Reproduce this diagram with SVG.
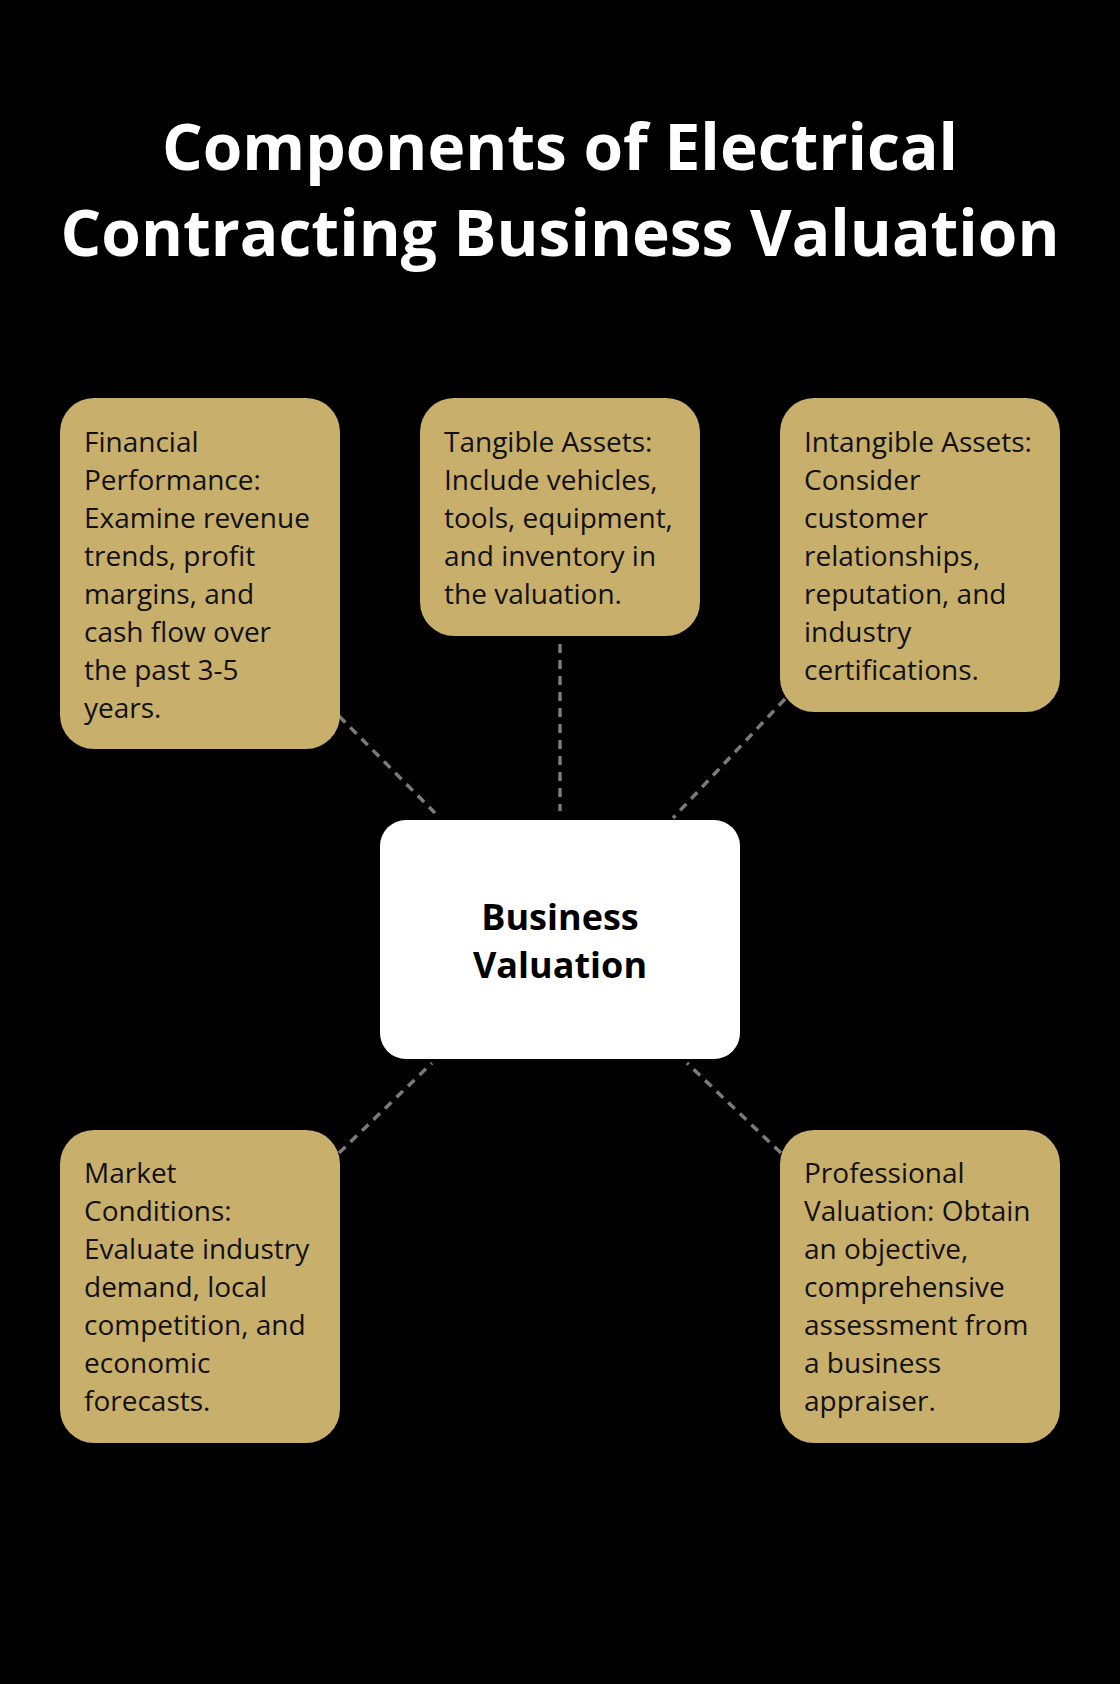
<svg xmlns="http://www.w3.org/2000/svg" width="1120" height="1684" viewBox="0 0 1120 1684">
<style>
.bg{fill:#000}
.card{fill:#C9AF6C}
.center{fill:#FFFFFF}
.t{font-family:"Open Sans","Noto Sans",sans-serif;font-size:28px;fill:#111}
.title{font-family:"Open Sans","Noto Sans",sans-serif;font-size:64px;font-weight:700;fill:#fff;text-anchor:middle}
.ct{font-family:"Open Sans","Noto Sans",sans-serif;font-size:36px;font-weight:700;fill:#000;text-anchor:middle}
.conn{stroke:#7a7a7a;stroke-width:3.5;stroke-dasharray:9 7;fill:none}
</style>
<rect class="bg" x="0" y="0" width="1120" height="1684"/>
<g id="title">
<text class="title" x="560" y="170">Components of Electrical</text>
<text class="title" x="560" y="256">Contracting Business Valuation</text>
</g>
<g id="connectors">
<line class="conn" x1="339" y1="716" x2="435" y2="813"/>
<line class="conn" x1="560" y1="644" x2="560" y2="811"/>
<line class="conn" x1="785" y1="699" x2="673" y2="818"/>
<line class="conn" x1="339" y1="1153" x2="432" y2="1063"/>
<line class="conn" x1="781" y1="1153" x2="687" y2="1063"/>
</g>
<g id="financial">
<rect class="card" x="60" y="398" width="280" height="351" rx="34"/>
<text class="t" x="84" y="452">Financial</text>
<text class="t" x="84" y="490">Performance:</text>
<text class="t" x="84" y="528">Examine revenue</text>
<text class="t" x="84" y="566">trends, profit</text>
<text class="t" x="84" y="604">margins, and</text>
<text class="t" x="84" y="642">cash flow over</text>
<text class="t" x="84" y="680">the past 3-5</text>
<text class="t" x="84" y="718">years.</text>
</g>
<g id="tangible">
<rect class="card" x="420" y="398" width="280" height="238" rx="34"/>
<text class="t" x="444" y="452">Tangible Assets:</text>
<text class="t" x="444" y="490">Include vehicles,</text>
<text class="t" x="444" y="528">tools, equipment,</text>
<text class="t" x="444" y="566">and inventory in</text>
<text class="t" x="444" y="604">the valuation.</text>
</g>
<g id="intangible">
<rect class="card" x="780" y="398" width="280" height="314" rx="34"/>
<text class="t" x="804" y="452">Intangible Assets:</text>
<text class="t" x="804" y="490">Consider</text>
<text class="t" x="804" y="528">customer</text>
<text class="t" x="804" y="566">relationships,</text>
<text class="t" x="804" y="604">reputation, and</text>
<text class="t" x="804" y="642">industry</text>
<text class="t" x="804" y="680">certifications.</text>
</g>
<g id="center">
<rect class="center" x="380" y="820" width="360" height="239" rx="26"/>
<text class="ct" x="560" y="930">Business</text>
<text class="ct" x="560" y="978">Valuation</text>
</g>
<g id="market">
<rect class="card" x="60" y="1130" width="280" height="313" rx="34"/>
<text class="t" x="84" y="1183">Market</text>
<text class="t" x="84" y="1221">Conditions:</text>
<text class="t" x="84" y="1259">Evaluate industry</text>
<text class="t" x="84" y="1297">demand, local</text>
<text class="t" x="84" y="1335">competition, and</text>
<text class="t" x="84" y="1373">economic</text>
<text class="t" x="84" y="1411">forecasts.</text>
</g>
<g id="professional">
<rect class="card" x="780" y="1130" width="280" height="313" rx="34"/>
<text class="t" x="804" y="1183">Professional</text>
<text class="t" x="804" y="1221">Valuation: Obtain</text>
<text class="t" x="804" y="1259">an objective,</text>
<text class="t" x="804" y="1297">comprehensive</text>
<text class="t" x="804" y="1335">assessment from</text>
<text class="t" x="804" y="1373">a business</text>
<text class="t" x="804" y="1411">appraiser.</text>
</g>
</svg>
